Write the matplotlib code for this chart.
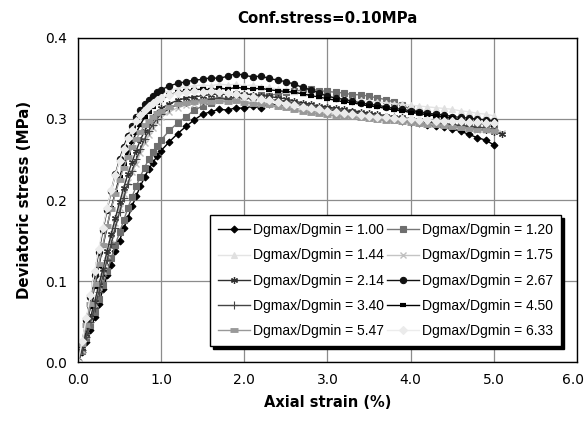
import matplotlib
matplotlib.use("Agg")
import matplotlib.pyplot as plt
import matplotlib.transforms as mtransforms

# shared strain grid (%)
strain = [0.00, 0.05, 0.10, 0.15, 0.20, 0.25, 0.30, 0.35, 0.40, 0.45, 0.50,
          0.55, 0.60, 0.65, 0.70, 0.75, 0.80, 0.85, 0.90, 0.95, 1.00,
          1.1, 1.2, 1.3, 1.4, 1.5, 1.6, 1.7, 1.8, 1.9, 2.0,
          2.1, 2.2, 2.3, 2.4, 2.5, 2.6, 2.7, 2.8, 2.9, 3.0,
          3.1, 3.2, 3.3, 3.4, 3.5, 3.6, 3.7, 3.8, 3.9, 4.0,
          4.1, 4.2, 4.3, 4.4, 4.5, 4.6, 4.7, 4.8, 4.9, 5.0, 5.1]

labels = ["Dgmax/Dgmin = 1.00", "Dgmax/Dgmin = 1.20", "Dgmax/Dgmin = 1.44",
          "Dgmax/Dgmin = 1.75", "Dgmax/Dgmin = 2.14", "Dgmax/Dgmin = 2.67",
          "Dgmax/Dgmin = 3.40", "Dgmax/Dgmin = 4.50", "Dgmax/Dgmin = 5.47",
          "Dgmax/Dgmin = 6.33"]

# deviatoric stress (MPa)
q_100 = [0, 0.012, 0.025, 0.04, 0.055, 0.072, 0.09, 0.107, 0.12, 0.137, 0.15,
         0.165, 0.178, 0.192, 0.205, 0.217, 0.228, 0.238, 0.246, 0.254, 0.261,
         0.272, 0.282, 0.291, 0.299, 0.306, 0.309, 0.312, 0.311, 0.314, 0.313,
         0.316, 0.314, 0.319, 0.317, 0.316, 0.318, 0.315, 0.313, 0.314, 0.311,
         0.31, 0.308, 0.309, 0.306, 0.305, 0.303, 0.302, 0.3, 0.298, 0.296,
         0.295, 0.293, 0.291, 0.29, 0.288, 0.285, 0.281, 0.277, 0.274, 0.268]
q_120 = [0, 0.014, 0.03, 0.046, 0.062, 0.078, 0.095, 0.112, 0.128, 0.145, 0.16,
         0.175, 0.19, 0.204, 0.217, 0.229, 0.24, 0.25, 0.259, 0.267, 0.274,
         0.286, 0.295, 0.303, 0.311, 0.316, 0.32, 0.323, 0.325, 0.326, 0.328,
         0.327, 0.33, 0.329, 0.331, 0.333, 0.334, 0.336, 0.337, 0.335, 0.334,
         0.333, 0.332, 0.33, 0.33, 0.328, 0.326, 0.324, 0.321, 0.317, 0.312,
         0.309, 0.307, 0.305, 0.303, 0.301, 0.299, 0.297, 0.295, 0.293, 0.29]
q_144 = [0, 0.022, 0.048, 0.075, 0.105, 0.135, 0.163, 0.19, 0.213, 0.233, 0.25,
         0.264, 0.276, 0.287, 0.297, 0.305, 0.312, 0.318, 0.323, 0.327, 0.331,
         0.335, 0.338, 0.34, 0.341, 0.342, 0.341, 0.343, 0.342, 0.343, 0.341,
         0.342, 0.34, 0.339, 0.337, 0.336, 0.334, 0.332, 0.331, 0.329, 0.327,
         0.326, 0.325, 0.324, 0.323, 0.322, 0.321, 0.32, 0.319, 0.318, 0.317,
         0.316, 0.315, 0.314, 0.313, 0.312, 0.31, 0.309, 0.307, 0.306, 0.304]
q_175 = [0, 0.015, 0.033, 0.052, 0.072, 0.092, 0.112, 0.132, 0.152, 0.171, 0.19,
         0.207, 0.222, 0.234, 0.245, 0.258, 0.27, 0.28, 0.289, 0.296, 0.302,
         0.309, 0.314, 0.317, 0.319, 0.321, 0.322, 0.323, 0.322, 0.323, 0.322,
         0.32, 0.319, 0.318, 0.316, 0.315, 0.313, 0.312, 0.31, 0.309, 0.308,
         0.307, 0.305, 0.304, 0.303, 0.302, 0.301, 0.3, 0.299, 0.298, 0.297,
         0.296, 0.295, 0.294, 0.293, 0.292, 0.29, 0.289, 0.287, 0.286, 0.285, 0.283]
q_214 = [0, 0.017, 0.035, 0.055, 0.074, 0.095, 0.115, 0.137, 0.158, 0.178, 0.197,
         0.215, 0.232, 0.247, 0.261, 0.274, 0.285, 0.294, 0.302, 0.308, 0.313,
         0.319, 0.323, 0.326, 0.327, 0.329, 0.33, 0.331, 0.33, 0.332, 0.331,
         0.33, 0.329, 0.328, 0.326, 0.325, 0.322, 0.32, 0.318, 0.316, 0.315,
         0.313, 0.312, 0.31, 0.309, 0.307, 0.306, 0.304, 0.303, 0.302, 0.3,
         0.299, 0.297, 0.296, 0.294, 0.293, 0.291, 0.29, 0.288, 0.286, 0.284, 0.281]
q_267 = [0, 0.025, 0.052, 0.08, 0.108, 0.136, 0.163, 0.188, 0.211, 0.232, 0.25,
         0.266, 0.279, 0.291, 0.302, 0.311, 0.318, 0.324, 0.329, 0.333, 0.336,
         0.341, 0.344, 0.346, 0.348, 0.349, 0.351, 0.35, 0.353, 0.356, 0.354,
         0.352, 0.353, 0.35, 0.348, 0.346, 0.343, 0.339, 0.336, 0.332, 0.328,
         0.326, 0.324, 0.322, 0.32, 0.318, 0.317, 0.315, 0.313, 0.312, 0.31,
         0.309, 0.307, 0.306, 0.305, 0.303, 0.302, 0.301, 0.3, 0.299, 0.297]
q_340 = [0, 0.015, 0.031, 0.049, 0.067, 0.086, 0.106, 0.126, 0.146, 0.166, 0.185,
         0.203, 0.22, 0.236, 0.25, 0.263, 0.275, 0.285, 0.293, 0.3, 0.306,
         0.313, 0.318, 0.321, 0.323, 0.324, 0.325, 0.326, 0.325, 0.327, 0.326,
         0.325, 0.326, 0.324, 0.323, 0.322, 0.32, 0.318, 0.317, 0.315, 0.313,
         0.312, 0.31, 0.309, 0.307, 0.306, 0.304, 0.303, 0.302, 0.3, 0.299,
         0.298, 0.297, 0.295, 0.294, 0.293, 0.292, 0.291, 0.29, 0.289, 0.287]
q_450 = [0, 0.021, 0.044, 0.068, 0.093, 0.118, 0.143, 0.167, 0.19, 0.21, 0.228,
         0.244, 0.258, 0.271, 0.283, 0.293, 0.302, 0.309, 0.315, 0.32, 0.324,
         0.33, 0.333, 0.335, 0.336, 0.337, 0.336, 0.338, 0.337, 0.339, 0.338,
         0.337, 0.338, 0.336, 0.335, 0.334, 0.333, 0.331, 0.329, 0.327, 0.325,
         0.323, 0.321, 0.32, 0.318, 0.316, 0.315, 0.313, 0.311, 0.31, 0.308,
         0.307, 0.305, 0.304, 0.302, 0.301, 0.299, 0.298, 0.296, 0.295, 0.293]
q_547 = [0, 0.022, 0.046, 0.071, 0.096, 0.121, 0.145, 0.168, 0.189, 0.208, 0.225,
         0.24, 0.253, 0.265, 0.275, 0.284, 0.292, 0.298, 0.303, 0.307, 0.31,
         0.315, 0.318, 0.32, 0.321, 0.322, 0.321, 0.322, 0.321, 0.322, 0.32,
         0.319, 0.318, 0.317, 0.315, 0.313, 0.311, 0.309, 0.308, 0.306, 0.305,
         0.304, 0.303, 0.302, 0.301, 0.3, 0.299, 0.298, 0.297, 0.296, 0.295,
         0.294, 0.293, 0.292, 0.291, 0.29, 0.289, 0.288, 0.287, 0.286, 0.285]
q_633 = [0, 0.026, 0.054, 0.083, 0.112, 0.14, 0.166, 0.19, 0.212, 0.231, 0.248,
         0.263, 0.276, 0.287, 0.297, 0.305, 0.311, 0.316, 0.32, 0.323, 0.326,
         0.33, 0.332, 0.333, 0.334, 0.333, 0.334, 0.333, 0.332, 0.331, 0.329,
         0.327, 0.325, 0.323, 0.321, 0.319, 0.317, 0.315, 0.313, 0.312, 0.31,
         0.309, 0.307, 0.306, 0.305, 0.304, 0.303, 0.302, 0.301, 0.3, 0.3,
         0.299, 0.299, 0.298, 0.298, 0.297, 0.297, 0.296, 0.296, 0.295, 0.295]

series = [q_100, q_120, q_144, q_175, q_214, q_267, q_340, q_450, q_547, q_633]

# (line colour, marker, marker face, marker edge, marker size, marker edge width)
styles = [
    ("#000000", "D", "#000000", "#000000", 3.5, 0.8),
    ("#777777", "s", "#6e6e6e", "#6e6e6e", 4.0, 0.8),
    ("#e4e4e4", "^", "#e0e0e0", "#e0e0e0", 4.5, 0.8),
    ("#c4c4c4", "x", "#c0c0c0", "#c0c0c0", 4.5, 1.0),
    ("#303030", (6, 2, 0), "#303030", "#303030", 5.0, 0.9),
    ("#111111", "o", "#111111", "#111111", 4.5, 0.8),
    ("#444444", "+", "#444444", "#444444", 5.5, 0.8),
    ("#000000", "_", "#000000", "#000000", 4.0, 3.0),
    ("#999999", "_", "#999999", "#999999", 6.0, 3.5),
    ("#ececec", "D", "#ebebeb", "#ebebeb", 4.0, 0.8),
]

plt.rcParams["font.family"] = "DejaVu Sans"

fig = plt.figure(figsize=(5.85, 4.24), dpi=100)
ax = fig.add_axes([0.1333, 0.1462, 0.853, 0.7642])

handles = []
for q, lab, st in zip(series, labels, styles):
    c, m, mfc, mec, ms, mew = st
    h, = ax.plot(strain[:len(q)], q, color=c, lw=1.0, marker=m, ms=ms,
                 mfc=mfc, mec=mec, mew=mew, label=lab)
    handles.append(h)

ax.set_xlim(0, 6)
ax.set_ylim(0, 0.4)
ax.set_xticks([0, 1, 2, 3, 4, 5, 6])
ax.set_xticklabels(["0.0", "1.0", "2.0", "3.0", "4.0", "5.0", "6.0"])
ax.set_yticks([0, 0.1, 0.2, 0.3, 0.4])
ax.set_yticklabels(["0.0", "0.1", "0.2", "0.3", "0.4"])
ax.tick_params(length=0, labelsize=10, pad=8)
ax.grid(True, color="#8c8c8c", lw=0.9)
ax.set_axisbelow(True)
for sp in ax.spines.values():
    sp.set_color("black")
    sp.set_linewidth(1.0)

# keep the last x label inside the figure, as in the original
last = ax.get_xticklabels()[-1]
last.set_horizontalalignment("right")
last.set_transform(last.get_transform() +
                   mtransforms.ScaledTranslation(0.07, 0, fig.dpi_scale_trans))

ax.set_title("Conf.stress=0.10MPa", fontsize=10.8, fontweight="bold", pad=11)
ax.set_xlabel("Axial strain (%)", fontsize=10.5, fontweight="bold", labelpad=6)
ax.set_ylabel("Deviatoric stress (MPa)", fontsize=10.8, fontweight="bold", labelpad=9)

# legend is filled row by row in the original
order = [0, 2, 4, 6, 8, 1, 3, 5, 7, 9]
leg = ax.legend([handles[i] for i in order], [labels[i] for i in order],
                ncol=2, loc="lower left",
                bbox_to_anchor=(0.2645, 0.049, 0.7035, 0.3985), mode="expand",
                borderaxespad=0, prop={"family": "Liberation Sans", "size": 10},
                frameon=True, fancybox=False,
                edgecolor="black", framealpha=1,
                shadow={"color": "black", "alpha": 1},
                handlelength=2.3, handletextpad=0.2, labelspacing=0.8,
                columnspacing=1.0, borderpad=0.6)
leg.get_frame().set_linewidth(1.0)

fig.savefig("out.png", dpi=100)
